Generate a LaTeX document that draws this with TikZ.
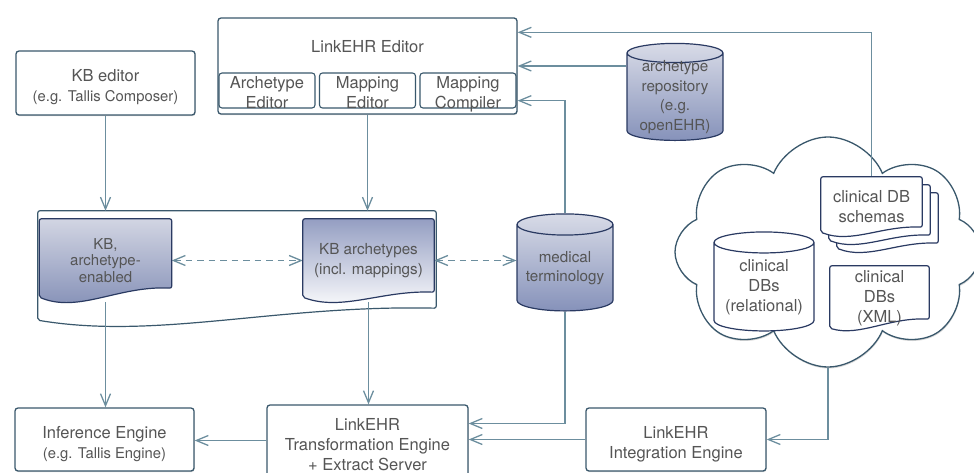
\documentclass[tikz,border=0pt]{standalone}
\usepackage{fontspec}
\setmainfont{TeX Gyre Heros}
\usepackage{tikz}
\usetikzlibrary{arrows.meta,calc,positioning,shapes.geometric,shapes.symbols,shadows}
\pgfdeclarelayer{wraplayer}
\pgfdeclarelayer{edgelayer}
\pgfdeclarelayer{doclayer}
\pgfsetlayers{wraplayer,edgelayer,doclayer,main}
\definecolor{txtgray}{RGB}{85,85,85}
\definecolor{edgecol}{RGB}{108,142,158}
\definecolor{boxcol}{RGB}{58,88,108}
\definecolor{dbcol}{RGB}{42,58,98}
\definecolor{dbtop}{RGB}{216,219,231}
\definecolor{dbbot}{RGB}{134,146,186}
\definecolor{doctop}{RGB}{210,213,227}
\definecolor{docbot}{RGB}{128,140,180}
\definecolor{archtop}{RGB}{148,158,194}
\newcommand{\mainsz}{\fontsize{16.5}{20}\selectfont}
\newcommand{\subsz}{\fontsize{14.8}{20}\selectfont}
\newcommand{\dbsz}{\fontsize{15.2}{19.5}\selectfont}
\newcommand{\tstrut}{\rule{0pt}{21pt}}
\newcommand{\substrut}{\rule{0pt}{16.5pt}}
% document outline with wavy bottom: node, rise at right, rise at left
\newcommand{\docwave}[3]{(#1.north west) -- (#1.north east) -- ($(#1.south east)+(0,-#2)$)
  .. controls ($(#1.south west)!.6!(#1.south east)+(0,{-1.2*#2})$) and ($(#1.south west)!.3!(#1.south east)+(0,{#3+0.44*#2})$) .. ($(#1.south west)+(0,-#3)$) -- cycle}

\begin{document}
\begin{tikzpicture}[x=1pt,y=-1pt,
  box/.style={draw=boxcol,line width=1.3pt,rounded corners=3pt,fill=white,text=txtgray,font=\mainsz,align=center,inner sep=0pt,
    drop shadow={shadow xshift=.5pt,shadow yshift=-1.2pt,opacity=.3}},
  subbox/.style={draw=boxcol,line width=1.1pt,rounded corners=3pt,fill=white,text=txtgray,font=\mainsz,align=center,inner xsep=0pt,inner ysep=-.75pt,
    minimum width=96pt,minimum height=35pt},
  dbbase/.style={cylinder,shape border rotate=90,aspect=.27,draw=dbcol,line width=1.2pt,text=txtgray,font=\dbsz,align=center,inner sep=0pt,
    minimum width=96pt,minimum height=97pt},
  db/.style={dbbase,top color=dbtop,bottom color=dbbot},
  dbwhite/.style={dbbase,fill=white,font=\mainsz},
  doc/.style={text=txtgray,font=\dbsz,align=center,inner sep=0pt},
  docline/.style={draw=dbcol,line width=1.2pt,rounded corners=2pt},
  link/.style={draw=edgecol,line width=1.3pt,-{Straight Barb[length=12pt,width=10pt]}},
  biway/.style={link,dash pattern=on 6.5pt off 5pt,{Straight Barb[length=12pt,width=10pt]}-{Straight Barb[length=12pt,width=10pt]}}
]
\useasboundingbox (0,0) rectangle (974,473);

% editors
\node[box,minimum width=179pt,minimum height=64pt] (kbed) at (105.5,83) {\tstrut KB editor\\{\subsz (e.g. Tallis Composer)}};
\node[box,minimum width=299pt,minimum height=96pt,text height=35pt,text depth=61pt] (lked) at (367.5,66) {LinkEHR Editor};
\node[subbox] (arched) at (267,90.5) {\substrut Archetype\\\smash{Editor}};
\node[subbox] (maped) at (367.5,90.5) {\substrut Mapping\\\smash{Editor}};
\node[subbox] (mapcomp) at (468,90.5) {\substrut Mapping\\\smash{Compiler}};

% knowledge base
\node[minimum width=398pt,minimum height=115pt,inner sep=0pt] (kbwrap) at (237,268.5) {};
\node[doc,font=\fontsize{15}{16.5}\selectfont,minimum width=132pt,minimum height=83pt] (kbdoc) at (105.5,260.5) {KB,\\archetype-\\enabled};
\node[doc,minimum width=131pt,minimum height=83pt] (kbarch) at (368.5,260.5) {KB archetypes\\(incl. mappings)};
\node[db] (medterm) at (565,268) {medical\\terminology};
\node[db,inner ysep=-4.5pt] (arrepo) at (675,97) {archetype\\repository\\(e.g.\\openEHR)};

% clinical sources
\begin{pgfonlayer}{wraplayer}
\node[cloud,cloud puffs=8,cloud puff arc=135,cloud ignores aspect,minimum width=306pt,minimum height=230pt,
  draw=boxcol,line width=1.3pt,fill=white,drop shadow={shadow xshift=.5pt,shadow yshift=-1.5pt,opacity=.3}] (dbcloud) at (828,252) {};
\draw[docline,draw=boxcol,fill=white] \docwave{kbwrap}{18}{6};
\end{pgfonlayer}
\node[doc,minimum width=101pt,minimum height=59pt] (schema3) at (887.5,222.5) {};
\node[doc,minimum width=101pt,minimum height=59pt] (schema2) at (879.5,214.5) {};
\node[doc,font=\mainsz,minimum width=101pt,minimum height=59pt] (schema) at (871.5,206.5) {clinical DB\\schemas};
\node[dbwhite,minimum width=100pt,minimum height=99pt] (reldb) at (764,287) {clinical\\DBs\\(relational)};
\node[doc,font=\mainsz,minimum width=99pt,minimum height=64pt] (xmldb) at (879.5,298) {clinical\\DBs\\(XML)};

% engines
\node[box,minimum width=179pt,minimum height=63pt] (infeng) at (104.5,439.5) {\tstrut Inference Engine\\{\subsz (e.g. Tallis Engine)}};
\node[box,minimum width=201pt,minimum height=71pt] (transeng) at (367.5,440.5) {\tstrut LinkEHR\\Transformation Engine\\+ Extract Server};
\node[box,minimum width=180pt,minimum height=63pt] (inteng) at (676,439.5) {\tstrut LinkEHR\\Integration Engine};

\begin{pgfonlayer}{doclayer}
\draw[docline,top color=doctop,bottom color=docbot] \docwave{kbdoc}{14}{5};
\draw[docline,top color=archtop,bottom color=white] \docwave{kbarch}{10}{5};
\draw[docline,fill=white] \docwave{schema3}{9}{4};
\draw[docline,fill=white] \docwave{schema2}{9}{4};
\draw[docline,fill=white] \docwave{schema}{9}{4};
\draw[docline,fill=white] \docwave{xmldb}{11}{2};
\end{pgfonlayer}

\begin{pgfonlayer}{edgelayer}
\draw[link] (kbed) -- (kbed |- kbwrap.north);
\draw[link] (lked) -- (lked |- kbwrap.north);
\draw[link] (kbdoc.south) -- (kbdoc.south |- infeng.north);
\draw[link] (kbarch.south) -- (kbarch.south |- transeng.north);
\draw[link] (transeng.west) -- (transeng.west -| infeng.east);
\draw[link] (inteng.west) -- (inteng.west -| transeng.east);
\draw[link] (medterm.south) |- ([yshift=17pt]transeng.east);
\draw[link] (medterm.north) |- ([yshift=14pt]lked.south east);
\draw[link] (lked.east -| arrepo.west) -- (lked.east);
\draw[link] (schema.north) |- ([yshift=-15pt]lked.north east);
\draw[link] (dbcloud.south) |- (inteng.east);
\draw[biway] (kbdoc.east) -- (kbarch.west);
\draw[biway] (kbarch.east) -- (kbarch.east -| medterm.west);
\end{pgfonlayer}
\end{tikzpicture}
\end{document}
